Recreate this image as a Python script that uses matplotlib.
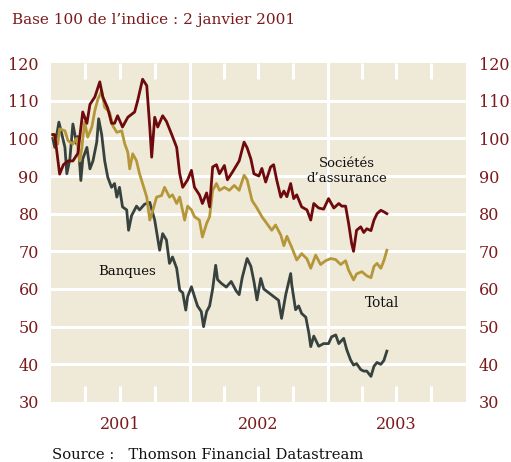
import matplotlib
matplotlib.use("Agg")
import matplotlib.pyplot as plt
import pandas as pd

# ---------------- data ----------------
assur_dates = ["2001-01-05","2001-01-10","2001-01-23","2001-02-02","2001-02-14","2001-02-27","2001-03-12","2001-03-25",
    "2001-04-05","2001-04-13","2001-04-26","2001-05-09","2001-05-17","2001-05-30","2001-06-09","2001-06-17","2001-06-25",
    "2001-07-08","2001-07-22","2001-08-09","2001-08-17","2001-08-30","2001-09-10","2001-09-18","2001-09-23","2001-10-01",
    "2001-10-09","2001-10-22","2001-11-01","2001-11-15","2001-11-28","2001-12-06","2001-12-14","2001-12-27",
    "2002-01-06","2002-01-14","2002-01-27","2002-02-04","2002-02-15","2002-02-23","2002-03-03","2002-03-13","2002-03-21",
    "2002-04-03","2002-04-11","2002-04-24","2002-05-12","2002-05-25","2002-06-02","2002-06-12","2002-06-20","2002-07-03",
    "2002-07-11","2002-07-21","2002-08-03","2002-08-11","2002-08-19","2002-08-30","2002-09-07","2002-09-15","2002-09-25",
    "2002-10-03","2002-10-11","2002-10-24","2002-11-07","2002-11-17","2002-11-25","2002-12-08","2002-12-21",
    "2003-01-03","2003-01-17","2003-01-30","2003-02-07","2003-02-17","2003-02-25","2003-03-05","2003-03-10","2003-03-18",
    "2003-03-29","2003-04-06","2003-04-14","2003-04-25","2003-05-03","2003-05-11","2003-05-21","2003-05-29","2003-06-06"]
assur_values = [101,101,90.5,93,94,94,96,107,
    104,109,111,115,111,108,104,104,106,
    103,105.6,107,110,115.7,114,103,95,105.6,
    103,106,104.5,101,97.6,90.6,87,89,
    91.5,87,85,82.7,85.5,81.8,92.4,93,90.6,
    92.8,89,91,94,99,97.5,94.5,90.6,90,
    92,88.4,92.4,93,89,84.4,86,84.5,88,
    84,85,81.8,81,78.3,82.7,81.5,81.2,
    84,81.5,82.7,82,82,77.4,72.1,70,75.6,
    76.5,75,76,75.5,78.3,80,80.9,80.5,80]

total_dates = ["2001-01-05","2001-01-18","2001-01-23","2001-02-06","2001-02-14","2001-02-27","2001-03-09","2001-03-17",
    "2001-03-22","2001-03-30","2001-04-07","2001-04-18","2001-04-26","2001-05-04","2001-05-14","2001-05-22","2001-06-04",
    "2001-06-12","2001-06-23","2001-07-06","2001-07-14","2001-07-22","2001-07-27","2001-08-04","2001-08-14","2001-08-22",
    "2001-08-30","2001-09-10","2001-09-18","2001-09-26","2001-10-06","2001-10-19","2001-10-27","2001-11-09","2001-11-17",
    "2001-11-28","2001-12-06","2001-12-19","2001-12-27",
    "2002-01-06","2002-01-14","2002-01-27","2002-02-04","2002-02-15","2002-02-23","2002-03-03","2002-03-13","2002-03-21",
    "2002-04-03","2002-04-16","2002-04-29","2002-05-12","2002-05-25","2002-06-02","2002-06-15","2002-06-28","2002-07-11",
    "2002-07-24","2002-08-06","2002-08-16","2002-08-30","2002-09-07","2002-09-15","2002-09-28","2002-10-11","2002-10-24",
    "2002-11-07","2002-11-17","2002-11-30","2002-12-13","2002-12-26",
    "2003-01-09","2003-01-22","2003-02-04","2003-02-17","2003-02-25","2003-03-10","2003-03-18","2003-04-01","2003-04-14",
    "2003-04-25","2003-05-03","2003-05-11","2003-05-21","2003-05-29","2003-06-06"]
total_values = [101,98.5,102.5,102,99.4,98.5,100,94,
    97,104.3,100.3,103,107.4,110.4,112.6,108.2,106.9,
    103.4,101.6,102,98.5,96.3,91.9,95.9,94,90.6,
    88,84.4,78.3,80.9,84.4,84.8,87,84.4,85,
    82.7,84.4,78.3,82,
    81,79.2,78.3,73.8,77.4,79.2,86.2,88,86.2,
    87,86.2,87.5,86.2,90.2,89,83.5,81.5,79.2,
    77.4,75.6,77,74.3,71.5,74,71,67.7,69.4,
    68,65.5,69,66.5,67.5,
    68.1,67.8,66.5,67.5,65,62.4,64,64.6,63.5,
    63,66,66.8,65.5,67.5,70.3]

banques_dates = ["2001-01-05","2001-01-10","2001-01-21","2001-01-29","2001-02-06","2001-02-11","2001-02-19","2001-02-27",
    "2001-03-09","2001-03-12","2001-03-20","2001-03-25","2001-04-05","2001-04-13","2001-04-21","2001-05-01","2001-05-06",
    "2001-05-14","2001-05-22","2001-05-30","2001-06-09","2001-06-17","2001-06-23","2001-06-30","2001-07-08","2001-07-19",
    "2001-07-24","2001-08-01","2001-08-14","2001-08-22","2001-09-04","2001-09-18","2001-10-01","2001-10-14","2001-10-22",
    "2001-11-01","2001-11-09","2001-11-17","2001-11-28","2001-12-06","2001-12-14","2001-12-22","2001-12-27",
    "2002-01-06","2002-01-14","2002-01-22","2002-02-01","2002-02-07","2002-02-15","2002-02-23","2002-03-03","2002-03-11",
    "2002-03-16","2002-03-26","2002-04-08","2002-04-21","2002-05-04","2002-05-12","2002-05-20","2002-06-02","2002-06-12",
    "2002-06-20","2002-06-28","2002-07-08","2002-07-16","2002-07-29","2002-08-11","2002-08-24","2002-09-01","2002-09-12",
    "2002-09-25","2002-09-28","2002-10-08","2002-10-16","2002-10-24","2002-11-04","2002-11-12","2002-11-17","2002-11-25",
    "2002-12-08","2002-12-21",
    "2003-01-03","2003-01-11","2003-01-22","2003-01-30","2003-02-12","2003-02-20","2003-03-02","2003-03-10","2003-03-18",
    "2003-03-29","2003-04-06","2003-04-14","2003-04-25","2003-05-03","2003-05-11","2003-05-21","2003-05-29","2003-06-06"]
banques_values = [100,97.6,104.3,101,97.6,90.6,94.5,103.8,
    98.5,100.5,88.8,94.5,97.6,91.9,94,99,105.2,
    101,94,89.7,87,88,84.4,87,81.8,81,
    75.6,79.5,82,81,82.5,83,78.3,70.3,74.7,
    73,66.8,68.5,65.5,59.7,59,54.4,58,
    60.6,58,55.5,54,50,54,55.5,60,66.3,
    62.5,61.5,60.5,62,59.5,58.5,63,68.1,66,
    62,57.1,62.8,60,59,58,57,52.2,58.5,
    64.1,61,54.5,55.5,53.5,52.5,48.3,44.7,47.5,
    44.8,45.5,
    45.5,47.3,47.8,45.5,46.9,43.9,41.2,39.8,40.2,
    38.6,38.2,38.2,36.8,39.5,40.5,40,41,43.5]

y_ticks = [30, 40, 50, 60, 70, 80, 90, 100, 110, 120]
year_labels = ["2001", "2002", "2003"]

# ---------------- style ----------------
RED = "#6e0a0c"
GOLD = "#b5973a"
GRAY = "#37423f"
BG = "#efe9d8"
LABEL = "#7b1a1c"
FONT = "DejaVu Serif"

fig = plt.figure(figsize=(5.11, 4.62), dpi=100)
ax = fig.add_axes([0.1004, 0.1299, 0.8116, 0.7337])
ax.set_facecolor(BG)

start = pd.Timestamp("2001-01-01")
end = pd.Timestamp("2004-01-01")
ax.set_xlim(start, end)
ax.set_ylim(30, 120)

# grid
for v in y_ticks[1:-1]:
    ax.axhline(v, color="white", lw=2.2, zorder=1)
for yr in ["2002-01-01", "2003-01-01"]:
    ax.axvline(pd.Timestamp(yr), color="white", lw=2.2, zorder=1)
qtr = [pd.Timestamp(f"{y}-{m:02d}-01") for y in (2001, 2002, 2003) for m in (4, 7, 10)]
trans = ax.get_xaxis_transform()
ax.vlines(qtr, 0, 0.048, transform=trans, color="white", lw=2.2, zorder=1)
ax.vlines(qtr, 1 - 0.048, 1, transform=trans, color="white", lw=2.2, zorder=1)

lw = 2.0
ax.plot(pd.to_datetime(banques_dates), banques_values, color=GRAY, lw=lw, zorder=3, solid_joinstyle="round")
ax.plot(pd.to_datetime(total_dates), total_values, color=GOLD, lw=lw, zorder=4, solid_joinstyle="round")
ax.plot(pd.to_datetime(assur_dates), assur_values, color=RED, lw=lw, zorder=5, solid_joinstyle="round")

for s in ax.spines.values():
    s.set_visible(False)

ax.set_yticks(y_ticks)
ax.set_yticklabels([str(v) for v in y_ticks])
ax.tick_params(axis="y", length=0, labelleft=True, labelright=True, pad=9,
               labelsize=11.5, labelcolor=LABEL)
for t in ax.yaxis.get_major_ticks():
    t.label1.set_fontfamily(FONT)
    t.label2.set_fontfamily(FONT)
    t.label2.set_color(LABEL)
    t.label2.set_fontsize(11.5)

mids = [pd.Timestamp(f"{y}-07-02") for y in year_labels]
ax.set_xticks(mids)
ax.set_xticklabels(year_labels, fontfamily=FONT, fontsize=11.5, color=LABEL)
ax.tick_params(axis="x", length=0, pad=10)

# series labels
ax.text(pd.Timestamp("2003-02-20"), 91.2, "Sociétés\nd\u2019assurance", ha="center", va="center",
        fontsize=9.5, fontfamily=FONT, color="#111111", linespacing=1.2, zorder=6)
ax.text(pd.Timestamp("2003-05-24"), 56.4, "Total", ha="center", va="center",
        fontsize=9.8, fontfamily=FONT, color="#111111", zorder=6)
ax.text(pd.Timestamp("2001-07-20"), 64.6, "Banques", ha="center", va="center",
        fontsize=9.5, fontfamily=FONT, color="#111111", zorder=6)

fig.text(12 / 511, 1 - 20 / 462, "Base 100 de l\u2019indice : 2 janvier 2001", ha="left", va="center",
         fontsize=11.0, fontfamily=FONT, color=LABEL)
fig.text(52 / 511, 1 - 455 / 462, "Source :   Thomson Financial Datastream", ha="left", va="center",
         fontsize=10.6, fontfamily=FONT, color="#111111")

fig.savefig("out.png", dpi=100, facecolor="white")
